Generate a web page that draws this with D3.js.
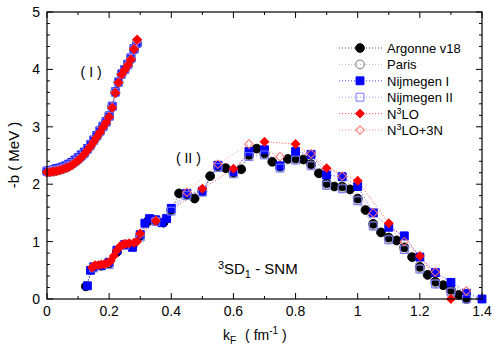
<!DOCTYPE html>
<meta charset="utf-8">
<style>
  body { margin: 0; background: #fff; font-family: "Liberation Sans", Arial, sans-serif; }
  text { font-family: "Liberation Sans", Arial, sans-serif; }
</style>
<body>
<div id="chart"></div>
<script src="https://d3js.org/d3.v7.min.js"></script>
<script>
// branch (I): shared k grid
const kI = [0, 0.01, 0.02, 0.03, 0.04, 0.05, 0.06, 0.07, 0.08, 0.09, 0.10, 0.11, 0.12, 0.13, 0.14,
            0.15, 0.16, 0.17, 0.18, 0.19, 0.20, 0.21, 0.22, 0.23, 0.24, 0.25, 0.26, 0.27, 0.28, 0.29];
const av18_I  = [2.22, 2.22, 2.23, 2.24, 2.25, 2.27, 2.29, 2.32, 2.35, 2.39, 2.43, 2.48, 2.53, 2.60, 2.67,
                 2.75, 2.83, 2.91, 3.00, 3.08, 3.18, 3.35, 3.60, 3.78, 3.92, 4.00, 4.08, 4.18, 4.35, 4.45];
const paris_I = [2.21, 2.22, 2.22, 2.23, 2.25, 2.26, 2.28, 2.31, 2.34, 2.38, 2.42, 2.47, 2.52, 2.59, 2.66,
                 2.74, 2.82, 2.90, 2.99, 3.07, 3.17, 3.34, 3.59, 3.77, 3.91, 3.99, 4.07, 4.17, 4.34, 4.44];
const nijI_I  = [2.23, 2.24, 2.25, 2.27, 2.28, 2.30, 2.32, 2.35, 2.38, 2.42, 2.46, 2.51, 2.56, 2.62, 2.69,
                 2.77, 2.85, 2.93, 3.01, 3.09, 3.19, 3.36, 3.61, 3.78, 3.92, 4.00, 4.09, 4.20, 4.36, 4.46];
const nijII_I = [2.22, 2.23, 2.24, 2.25, 2.26, 2.28, 2.30, 2.33, 2.36, 2.40, 2.44, 2.49, 2.54, 2.61, 2.68,
                 2.76, 2.84, 2.92, 3.00, 3.08, 3.18, 3.35, 3.60, 3.78, 3.92, 4.00, 4.08, 4.19, 4.35, 4.46];
const n3lo_I  = [2.21, 2.21, 2.22, 2.23, 2.24, 2.26, 2.28, 2.30, 2.33, 2.37, 2.41, 2.46, 2.52, 2.59, 2.66,
                 2.74, 2.82, 2.90, 2.99, 3.07, 3.17, 3.33, 3.59, 3.77, 3.91, 3.99, 4.07, 4.17, 4.35, 4.52];
const n3lo3N_I = [2.21, 2.22, 2.22, 2.23, 2.25, 2.26, 2.28, 2.31, 2.34, 2.38, 2.42, 2.47, 2.52, 2.59, 2.66,
                 2.74, 2.82, 2.90, 2.99, 3.07, 3.17, 3.34, 3.60, 3.77, 3.91, 3.99, 4.08, 4.18, 4.36, 4.50];

// branch (II)
const av18_kII = [0.125, 0.15, 0.175, 0.2, 0.225, 0.25, 0.275, 0.3, 0.325, 0.35, 0.375, 0.4, 0.425, 0.45, 0.475,
                  0.5, 0.525, 0.55, 0.575, 0.6, 0.625, 0.65, 0.675, 0.7, 0.725, 0.75, 0.775, 0.8, 0.825, 0.85,
                  0.875, 0.9, 0.925, 0.95, 0.975, 1.0, 1.025, 1.05, 1.075, 1.1, 1.125, 1.15, 1.175, 1.2, 1.225,
                  1.25, 1.275, 1.3, 1.325, 1.35];
const av18_II  = [0.22, 0.55, 0.58, 0.62, 0.82, 0.95, 0.92, 1.10, 1.36, 1.37, 1.33, 1.55, 1.84, 1.82, 1.75,
                  1.88, 2.14, 2.31, 2.28, 2.20, 2.26, 2.51, 2.62, 2.54, 2.39, 2.31, 2.44, 2.45, 2.43, 2.35,
                  2.19, 2.02, 1.96, 1.96, 1.91, 1.75, 1.55, 1.31, 1.16, 1.07, 1.02, 0.90, 0.73, 0.56, 0.42,
                  0.30, 0.24, 0.16, 0.07, 0.00];
const k05_II   = [0.15, 0.2, 0.25, 0.3, 0.35, 0.4, 0.45, 0.5, 0.55, 0.6, 0.65, 0.7, 0.75, 0.8, 0.85, 0.9,
                  0.95, 1.0, 1.05, 1.1, 1.15, 1.2, 1.25, 1.3, 1.35];
const paris_II = [0.55, 0.61, 0.94, 1.09, 1.36, 1.54, 1.81, 1.87, 2.30, 2.19, 2.49, 2.52, 2.29, 2.43, 2.33, 1.99,
                  1.93, 1.72, 1.28, 1.04, 0.87, 0.53, 0.27, 0.13, 0.00];
const nijII_II = [0.54, 0.60, 0.93, 1.08, 1.35, 1.53, 1.80, 1.86, 2.29, 2.18, 2.48, 2.51, 2.28, 2.42, 2.32, 1.98,
                  1.92, 1.71, 1.27, 1.03, 0.86, 0.52, 0.26, 0.12, 0.00];
const nijI_kII = [0.13, 0.14, 0.15, 0.175, 0.2, 0.225, 0.25, 0.275, 0.3, 0.315, 0.33, 0.35, 0.37, 0.385, 0.4,
                  0.45, 0.5, 0.55, 0.6, 0.65, 0.7, 0.75, 0.8, 0.85, 0.9, 0.95, 1.0, 1.05, 1.1, 1.15,
                  1.2, 1.25, 1.3, 1.35, 1.4];
const nijI_II  = [0.23, 0.50, 0.56, 0.58, 0.64, 0.85, 0.95, 0.90, 1.12, 1.32, 1.40, 1.38, 1.33, 1.40, 1.58,
                  1.84, 1.88, 2.33, 2.22, 2.57, 2.60, 2.32, 2.57, 2.52, 2.16, 2.13, 1.96, 1.50, 1.25, 1.10,
                  0.73, 0.46, 0.29, 0.10, 0.00];
const n3lo_kII = [0.145, 0.155, 0.165, 0.175, 0.185, 0.195, 0.205, 0.215, 0.225, 0.235, 0.245, 0.255, 0.265,
                  0.28, 0.29, 0.3, 0.35, 0.5, 0.6, 0.7, 0.8, 0.9, 1.0, 1.1, 1.2, 1.3];
const n3lo_II  = [0.55, 0.59, 0.59, 0.60, 0.61, 0.63, 0.66, 0.75, 0.85, 0.92, 0.95, 0.96, 0.97,
                  0.98, 1.00, 1.14, 1.36, 1.92, 2.27, 2.74, 2.70, 2.28, 2.06, 1.32, 0.75, 0.00];
const n3lo3N_kII = [0.15, 0.2, 0.25, 0.3, 0.35, 0.45, 0.55, 0.65, 0.75, 0.85, 0.95, 1.05, 1.15, 1.25, 1.35];
const n3lo3N_II  = [0.57, 0.64, 0.96, 1.13, 1.37, 1.86, 2.35, 2.70, 2.48, 2.53, 2.14, 1.50, 1.00, 0.47, 0.14];

const zip = (ks, bs) => ks.map((k, i) => ({k, b: bs[i]}));

// legend order
const series = [
  {name: "Argonne v18", color: "#000", line: "#000", shape: "circle", fill: true,
   branches: [zip(kI, av18_I), zip(av18_kII, av18_II)]},
  {name: "Paris", color: "#777", line: "#999", shape: "circle", fill: false,
   branches: [zip(kI, paris_I), zip(k05_II, paris_II)]},
  {name: "Nijmegen I", color: "#0000ff", line: "#0000ff", shape: "square", fill: true,
   branches: [zip(kI, nijI_I), zip(nijI_kII, nijI_II)]},
  {name: "Nijmegen II", color: "#7878ff", line: "#7878ff", shape: "square", fill: false,
   branches: [zip(kI, nijII_I), zip(k05_II, nijII_II)]},
  {name: "N3LO", color: "#ff0000", line: "#ff0000", shape: "diamond", fill: true,
   branches: [zip(kI, n3lo_I), zip(n3lo_kII, n3lo_II)]},
  {name: "N3LO+3N", color: "#ff7070", line: "#ff7070", shape: "diamond", fill: false,
   branches: [zip(kI, n3lo3N_I), zip(n3lo3N_kII, n3lo3N_II)]}
];
// draw order: filled N3LO on top
const drawOrder = [0, 1, 2, 3, 5, 4];

const width = 500, height = 350;
const margin = {top: 12, right: 18, bottom: 51, left: 47};
const w = width - margin.left - margin.right;
const h = height - margin.top - margin.bottom;

const svg = d3.select("#chart").append("svg")
  .attr("width", width).attr("height", height);
const g = svg.append("g").attr("transform", `translate(${margin.left},${margin.top})`);

const x = d3.scaleLinear().domain([0, 1.4]).range([0, w]);
const y = d3.scaleLinear().domain([0, 5]).range([h, 0]);

// ticks (inside, all four sides)
const xMinor = d3.range(0, 1.401, 0.1), xMajor = d3.range(0, 1.401, 0.2);
const yMinor = d3.range(0, 5.001, 0.2), yMajor = d3.range(0, 5.001, 1);
const tk = g.append("g").attr("stroke", "#000").attr("stroke-width", 1);
xMinor.forEach(v => {
  const major = xMajor.some(m => Math.abs(m - v) < 1e-6);
  const L = major ? 6 : 3;
  tk.append("line").attr("x1", x(v)).attr("x2", x(v)).attr("y1", h).attr("y2", h - L);
  tk.append("line").attr("x1", x(v)).attr("x2", x(v)).attr("y1", 0).attr("y2", L);
});
yMinor.forEach(v => {
  const major = yMajor.some(m => Math.abs(m - v) < 1e-6);
  const L = major ? 6 : 3;
  tk.append("line").attr("y1", y(v)).attr("y2", y(v)).attr("x1", 0).attr("x2", L);
  tk.append("line").attr("y1", y(v)).attr("y2", y(v)).attr("x1", w).attr("x2", w - L);
});

g.selectAll(".xl").data(xMajor).join("text")
  .attr("x", d => x(d)).attr("y", h + 17)
  .attr("text-anchor", "middle").style("font-size", "14px")
  .text(d => d3.format("~g")(+d.toFixed(1)));
g.selectAll(".yl").data(yMajor).join("text")
  .attr("x", -7).attr("y", d => y(d) + 5)
  .attr("text-anchor", "end").style("font-size", "14px")
  .text(d => d);

const symbolPath = (shape) => {
  if (shape === "circle") return d3.symbol(d3.symbolCircle, 60)();
  if (shape === "square") return d3.symbol(d3.symbolSquare, 62)();
  return d3.symbol(d3.symbolSquare, 36)();
};

const line = d3.line().x(d => x(d.k)).y(d => y(d.b));

const plot = g.append("g");
drawOrder.forEach(i => {
  const s = series[i];
  s.branches.forEach(br => {
    plot.append("path").datum(br)
      .attr("d", line).attr("fill", "none")
      .attr("stroke", s.line).attr("stroke-width", 1)
      .attr("stroke-dasharray", "1,2").attr("opacity", 0.7);
  });
});
drawOrder.forEach(i => {
  const s = series[i];
  const pts = s.branches.flat();
  plot.selectAll(null).data(pts).join("path")
    .attr("d", symbolPath(s.shape))
    .attr("transform", d => `translate(${x(d.k)},${y(d.b)})` + (s.shape === "diamond" ? " rotate(45)" : ""))
    .attr("fill", s.fill ? s.color : "none")
    .attr("stroke", s.color)
    .attr("stroke-width", 1);
});

// frame
g.append("rect").attr("width", w).attr("height", h)
  .attr("fill", "none").attr("stroke", "#000").attr("stroke-width", 1.2);

// legend
const leg = svg.append("g").attr("transform", "translate(339,48)");
series.forEach((s, i) => {
  const row = leg.append("g").attr("transform", `translate(0,${i * 16.4})`);
  row.append("line").attr("x1", 0).attr("x2", 43).attr("y1", 0).attr("y2", 0)
    .attr("stroke", s.line).attr("stroke-dasharray", "1,2").attr("opacity", 0.7);
  row.append("path").attr("d", symbolPath(s.shape))
    .attr("transform", "translate(21,0)" + (s.shape === "diamond" ? " rotate(45)" : ""))
    .attr("fill", s.fill ? s.color : "none").attr("stroke", s.color);
  const t = row.append("text").attr("x", 48).attr("y", 5).style("font-size", "13px");
  if (s.name.startsWith("N3LO")) {
    t.append("tspan").text("N");
    t.append("tspan").attr("dy", -5).style("font-size", "9px").text("3");
    t.append("tspan").attr("dy", 5).text(s.name.slice(2));
  } else {
    t.text(s.name);
  }
});

// annotations
g.append("text").attr("x", x(0.142)).attr("y", y(3.86)).attr("text-anchor", "middle")
  .style("font-size", "14px").text("( I )");
g.append("text").attr("x", x(0.455)).attr("y", y(2.37)).attr("text-anchor", "middle")
  .style("font-size", "14px").text("( II )");
const ann = g.append("text").attr("x", x(0.55)).attr("y", y(0.43)).style("font-size", "15px");
ann.append("tspan").attr("dy", -5).style("font-size", "11px").text("3");
ann.append("tspan").attr("dy", 5).text("SD");
ann.append("tspan").attr("dy", 4).style("font-size", "11px").text("1");
ann.append("tspan").attr("dy", -4).text(" - SNM");

// axis titles
const xt = svg.append("text").attr("x", 223).attr("y", 340).style("font-size", "14px");
xt.append("tspan").text("k");
xt.append("tspan").attr("dy", 4).style("font-size", "10px").text("F");
xt.append("tspan").attr("dy", -4).attr("dx", 9).text("( fm");
xt.append("tspan").attr("dy", -6).style("font-size", "10px").text("-1");
xt.append("tspan").attr("dy", 6).text(" )");

svg.append("text").attr("transform", "translate(19,155) rotate(-90)")
  .attr("text-anchor", "middle").style("font-size", "15px").text("-b  ( MeV )");
</script>
</body>
